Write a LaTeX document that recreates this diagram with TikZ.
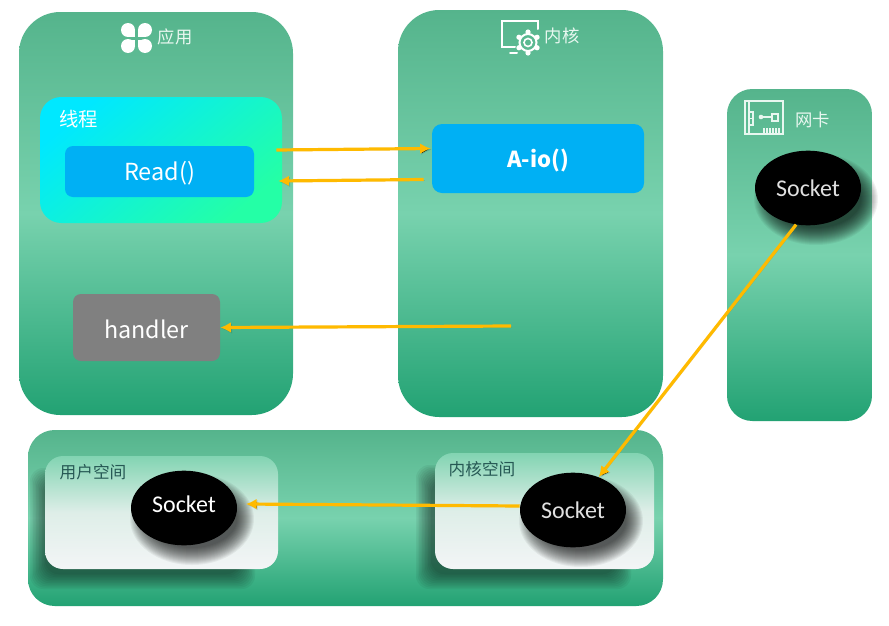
\documentclass[tikz,border=0pt]{standalone}
\usepackage{fontspec}
\setmainfont{Noto Sans CJK SC}
\newfontfamily\sockfont{Carlito}
\usetikzlibrary{positioning,arrows.meta,shapes.geometric}

\definecolor{cardtop}{RGB}{85,180,140}
\definecolor{cardmid}{RGB}{120,210,174}
\definecolor{cardbot}{RGB}{34,162,115}
\definecolor{spacetop}{RGB}{130,212,178}
\definecolor{spacemid}{RGB}{222,238,232}
\definecolor{spacebot}{RGB}{243,245,246}
\definecolor{threadtl}{RGB}{0,232,255}
\definecolor{threadbr}{RGB}{36,255,166}
\definecolor{callblue}{RGB}{0,176,244}
\definecolor{flowgold}{RGB}{255,186,0}
\definecolor{spaceink}{RGB}{38,88,84}
\definecolor{iconwhite}{RGB}{232,247,240}

\tikzset{
  card/.style={inner sep=0pt,top color=cardtop,bottom color=cardbot,middle color=cardmid},
  spacebox/.style={inner sep=0pt,rounded corners=13.5pt,top color=spacetop,bottom color=spacebot,middle color=spacemid},
  callbox/.style={inner sep=0pt,fill=callblue,text=white},
  sockball/.style={ellipse,inner sep=0pt,minimum width=79.5pt,minimum height=56pt,fill=black,
    text=white,font=\sockfont\fontsize{18}{18}\selectfont},
  cardlabel/.style={text=iconwhite,font=\fontsize{13}{13}\selectfont},
  spacelabel/.style={text=spaceink,font=\fontsize{12.5}{13}\selectfont},
  icon/.style={draw=white,line width=1.5pt,line cap=round},
  thinicon/.style={draw=iconwhite,line width=0.8pt},
  flow/.style={draw=flowgold,line width=2.4pt,-{Latex[length=8pt,width=8pt]},
    preaction={draw=black,draw opacity=.12,transform canvas={xshift=0.8pt,yshift=-0.8pt}}},
}

% soft shadows, built from stacked transparent layers
\newcommand\softrect[5]{
  \foreach \i in {-10,-8.5,...,6} {
    \fill[black,opacity=.05,rounded corners=#5] (#1-\i,#2-\i) rectangle (#3+\i,#4+\i);
  }
}
\newcommand\softball[2]{
  \foreach \i in {-8,-7,...,9} {
    \fill[black,opacity=.05] (#1,#2) ellipse ({53+\i} and {37+\i});
  }
}
\newcommand\nudge[2]{\raisebox{#1}[\height][\depth]{#2}}

\begin{document}
\begin{tikzpicture}[x=0.75pt,y=0.75pt,yscale=-1,xscale=1]
  \useasboundingbox (0,0) rectangle (889,625);

  % panels
  \node (app) [card,rounded corners=31pt,minimum width=205.5pt,minimum height=302.25pt] at (156,213.5) {};
  \node (kernel) [card,rounded corners=31pt,minimum width=198.75pt,minimum height=305.25pt] at (530.5,213.5) {};
  \node (nic) [card,rounded corners=19pt,minimum width=108.75pt,minimum height=249pt] at (799.5,255) {};
  \node (stack) [card,rounded corners=20pt,minimum width=476.25pt,minimum height=132pt] at (345.5,518) {};

  % thread and calls
  \node (thread) [inner sep=0pt,rounded corners=16pt,minimum width=181.5pt,minimum height=94.5pt,
    top color=threadtl,bottom color=threadbr,shading angle=40] at (161,160) {};
  \node (threadlabel) [text=white,font=\fontsize{14.5}{15}\selectfont] at (78.5,119) {线程};
  \node (read) [callbox,rounded corners=6pt,minimum width=141.75pt,minimum height=38.25pt,
    font=\fontsize{17.6}{18}\selectfont] at (159.5,171.5) {\nudge{-1.5pt}{Read()}};
  \node (aio) [callbox,rounded corners=7.5pt,minimum width=159pt,minimum height=51.75pt,
    font=\bfseries\fontsize{16.5}{17}\selectfont] at (538,158.5) {\nudge{-1.5pt}{A-io()}};
  \node (handler) [inner sep=0pt,rounded corners=6pt,minimum width=110.25pt,minimum height=50.25pt,
    fill=black!50,text=white,font=\fontsize{17.5}{18}\selectfont] at (146.5,327.5) {\nudge{-1.5pt}{handler}};

  % user and kernel space
  \softrect{35}{473}{250}{584}{10pt}
  \softrect{421}{470}{626}{584}{10pt}
  \node (userspace) [spacebox,minimum width=174.75pt,minimum height=84.75pt] at (161.5,512.5) {};
  \node (kernelspace) [spacebox,minimum width=164.25pt,minimum height=87pt] at (544.5,511) {};
  \node (userlabel) [spacelabel] at (93,472) {用户空间};
  \node (kernellabel) [spacelabel] at (482,469) {内核空间};

  % sockets
  \softball{816}{199}
  \softball{192}{519}
  \softball{581}{521}
  \node (nicsock) [sockball,text=black!12] at (808,188) {Socket};
  \node (usersock) [sockball] at (184,508) {\nudge{3pt}{Socket}};
  \node (kernelsock) [sockball,text=black!12] at (573,510) {Socket};

  % connectors
  \coordinate (kernelout) at (511,326);
  \draw[flow] ([shift={(-6,-10)}]thread.east) -- ([shift={(-1,-10)}]aio.west);
  \draw[flow] ([shift={(-8,21)}]aio.west) -- ([shift={(-4,21)}]thread.east);
  \draw[flow] (kernelout) -- (handler.east);
  \draw[flow] (nicsock.-108) -- (kernelsock.52);
  \draw[flow] ([yshift=-3pt]kernelsock.west) -- ([xshift=6.5pt,yshift=-3pt]usersock.east);

  % card titles
  \node (applabel) [cardlabel] at (175,37) {应用};
  \node (kernellabeltop) [cardlabel] at (562,36) {内核};
  \node (niclabel) [cardlabel] at (812.5,120) {网卡};

  % clover icon
  \foreach \sx/\sy in {-1/-1,1/-1,-1/1,1/1} {
    \fill[white] (136.5+8.5*\sx,38+8*\sy) circle (7);
    \fill[white] (136.5+1.5*\sx,38+1.5*\sy) rectangle (136.5+8.5*\sx,38+8*\sy);
  }

  % monitor icon
  \draw[icon] (515,47) -- (502,47) -- (502,21) -- (538,21) -- (538,29);
  \draw[icon] (510,53) -- (517,53);
  \draw[icon] (528,42.5) circle (8.5);
  \draw[icon,line width=1.2pt] (528,42.5) circle (4);
  \foreach \a in {0,60,...,300} {
    \fill[white] (528,42.5) ++(\a+30:10.5) circle (2.6);
  }

  % card icon
  \draw[thinicon] (745,101) rectangle (783,134);
  \draw[thinicon] (749,101) -- (749,134);
  \draw[thinicon] (749,112) rectangle (753,125) (749,118.5) -- (753,118.5);
  \fill[iconwhite] (761,117) circle (2.3);
  \draw[thinicon] (761,117) -- (772,117) (772,114) rectangle (778,121);
  \foreach \t in {764,767,770,773,776,779} {
    \draw[thinicon] (\t,128) -- (\t,134);
  }
\end{tikzpicture}
\end{document}
